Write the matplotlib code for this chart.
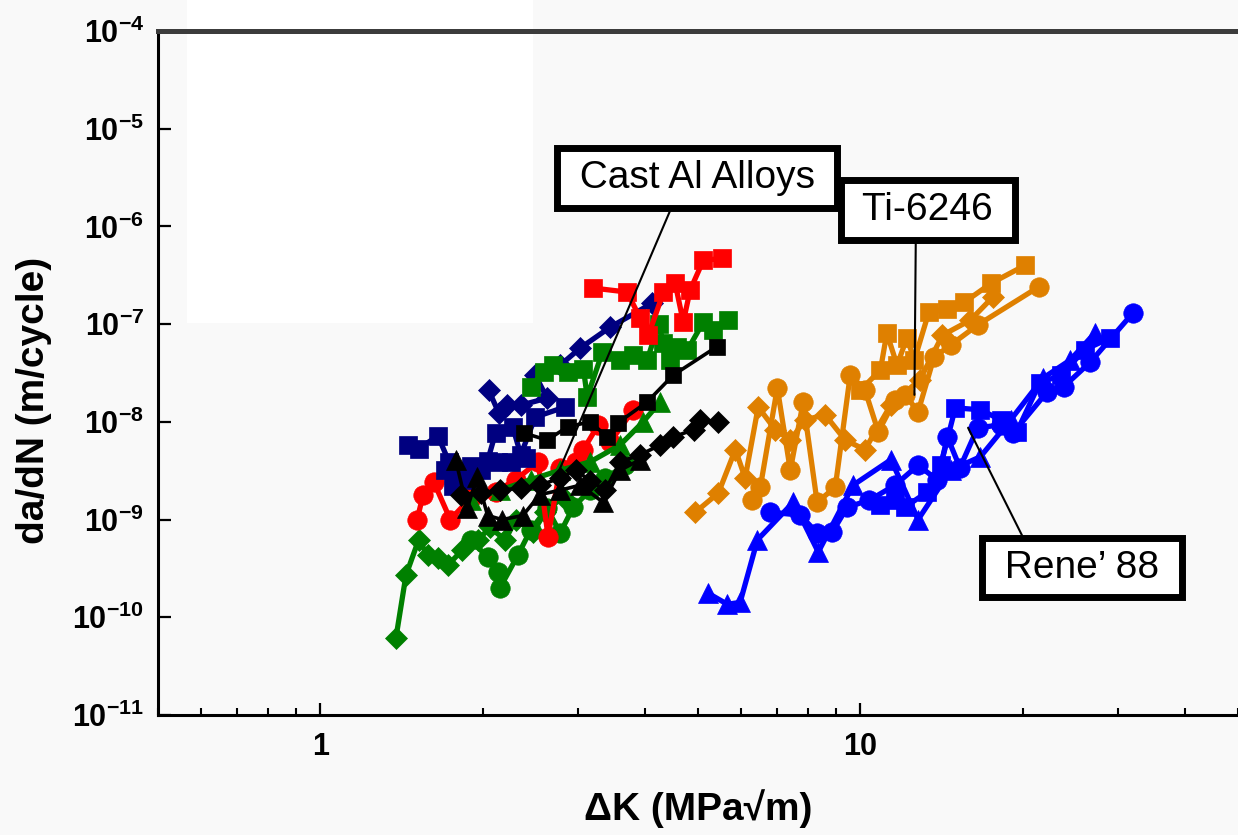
import matplotlib
matplotlib.use("Agg")
import matplotlib.pyplot as plt
from matplotlib.patches import Rectangle
from matplotlib.ticker import LogLocator, NullFormatter, NullLocator

plt.rcParams['font.family'] = ['Liberation Sans', 'DejaVu Sans']
plt.rcParams['mathtext.fontset'] = 'custom'
plt.rcParams['mathtext.rm'] = 'Liberation Sans'
plt.rcParams['mathtext.bf'] = 'Liberation Sans:bold'

# ---- Cast Al alloys ----
red_sq_x = [3.20, 3.70, 3.91, 4.05, 4.32, 4.54, 4.70, 4.84, 5.12, 5.55]
red_sq_y = [2.34e-7, 2.13e-7, 1.15e-7, 7.7e-8, 2.13e-7, 2.63e-7, 1.05e-7, 2.23e-7, 4.5e-7, 4.7e-7]

navy_dia_x = [2.05, 2.14, 2.22, 2.35, 2.63, 2.50, 2.78, 3.03, 3.44, 4.12]
navy_dia_y = [2.1e-8, 1.23e-8, 1.48e-8, 1.48e-8, 1.75e-8, 3.0e-8, 3.8e-8, 5.7e-8, 9.3e-8, 1.64e-7]

navy_sq_x = [1.45, 1.52, 1.65, 1.73, 1.80, 1.90, 2.04, 2.11, 2.27, 2.35, 2.50, 2.84]
navy_sq_y = [5.8e-9, 5.3e-9, 7.2e-9, 3.9e-9, 2.7e-9, 3.5e-9, 4.0e-9, 7.7e-9, 8.9e-9, 4.6e-9, 1.12e-8, 1.42e-8]

navy_sq2_x = [1.70, 1.76, 1.86, 1.98, 2.13, 2.25, 2.40]
navy_sq2_y = [3.2e-9, 2.2e-9, 2.55e-9, 3.2e-9, 3.9e-9, 3.9e-9, 4.3e-9]

green_sq_x = [2.45, 2.59, 2.70, 2.87, 3.07, 3.12, 3.33, 3.59, 3.80, 4.03, 4.23, 4.32, 4.45, 4.58, 4.78, 5.12, 5.34, 5.70]
green_sq_y = [2.3e-8, 3.2e-8, 3.8e-8, 3.2e-8, 3.5e-8, 1.8e-8, 5.2e-8, 4.3e-8, 4.8e-8, 4.3e-8, 1.0e-7, 6.4e-8,
              4.3e-8, 5.8e-8, 5.4e-8, 1.05e-7, 8.7e-8, 1.1e-7]

black_sq_x = [2.38, 2.63, 2.87, 3.16, 3.40, 3.56, 4.03, 4.50, 5.43]
black_sq_y = [7.7e-9, 6.5e-9, 8.9e-9, 1.0e-8, 7.0e-9, 9.8e-9, 1.6e-8, 3.0e-8, 5.9e-8]

red_ci_x = [1.51, 1.55, 1.62, 1.74, 1.90, 2.11, 2.30, 2.53, 2.64, 2.78, 2.97, 3.07, 3.27, 3.44, 3.80]
red_ci_y = [1.0e-9, 1.8e-9, 2.45e-9, 1.0e-9, 1.68e-9, 1.93e-9, 2.56e-9, 3.9e-9, 6.7e-10, 3.4e-9, 3.9e-9,
            5.2e-9, 9.3e-9, 6.2e-9, 1.33e-8]

green_dia_x = [1.38, 1.44, 1.52, 1.58, 1.65, 1.72, 1.83, 1.96, 2.06, 2.20, 2.30, 2.48, 2.61, 2.81]
green_dia_y = [6.2e-11, 2.7e-10, 6.2e-10, 4.3e-10, 4.0e-10, 3.4e-10, 4.85e-10, 6.2e-10, 8.3e-10, 6.2e-10,
               1.0e-9, 7.5e-10, 1.2e-9, 1.7e-9]

green_ci_x = [1.90, 2.04, 2.13, 2.15, 2.32, 2.45, 2.63, 2.78, 2.94, 3.16, 3.37, 3.67]
green_ci_y = [6.2e-10, 4.1e-10, 2.9e-10, 2.0e-10, 4.3e-10, 7.8e-10, 1.3e-9, 7.3e-10, 1.34e-9, 2.0e-9, 2.66e-9, 3.6e-9]

green_tri_x = [1.90, 2.15, 2.45, 2.78, 3.16, 3.59, 3.96, 4.26]
green_tri_y = [1.58e-9, 2.0e-9, 2.56e-9, 3.2e-9, 3.9e-9, 5.8e-9, 1.0e-8, 1.6e-8]

black_tri_x = [1.78, 1.87, 1.95, 2.04, 2.17, 2.37, 2.55, 2.78, 3.03, 3.34, 3.59, 3.91]
black_tri_y = [4.1e-9, 1.3e-9, 2.7e-9, 1.1e-9, 1.0e-9, 1.1e-9, 1.8e-9, 2.0e-9, 2.25e-9, 1.5e-9, 3.2e-9, 4.1e-9]

black_dia_x = [1.82, 1.98, 2.15, 2.35, 2.55, 2.78, 2.97, 3.16, 3.37, 3.59, 3.91, 4.26, 4.50, 4.91, 5.05, 5.46]
black_dia_y = [1.8e-9, 1.87e-9, 2.0e-9, 2.1e-9, 2.25e-9, 2.66e-9, 3.2e-9, 2.5e-9, 2.0e-9, 3.9e-9, 4.6e-9,
               5.8e-9, 7.0e-9, 8.3e-9, 1.05e-8, 1.0e-8]

# ---- Ti-6246 ----
ti_sq_x = [10.0, 10.9, 11.2, 11.7, 12.2, 12.6, 13.4, 14.5, 15.6, 17.5, 20.2]
ti_sq_y = [2.1e-8, 3.4e-8, 8.1e-8, 3.8e-8, 7.2e-8, 4.3e-8, 1.33e-7, 1.42e-7, 1.68e-7, 2.63e-7, 4.0e-7]

ti_ci_x = [6.31, 6.53, 7.02, 7.42, 7.84, 8.32, 8.99, 9.58, 10.2, 10.8, 11.6, 12.1, 12.8, 13.7, 14.7, 16.5, 21.4]
ti_ci_y = [1.58e-9, 2.15e-9, 2.23e-8, 3.2e-9, 1.6e-8, 1.5e-9, 2.15e-9, 3.0e-8, 2.13e-8, 7.9e-9, 1.68e-8,
           1.9e-8, 1.27e-8, 4.6e-8, 6.1e-8, 9.8e-8, 2.4e-7]

ti_dia_x = [4.95, 5.46, 5.87, 6.12, 6.47, 6.96, 7.42, 7.91, 8.61, 9.38, 10.2, 11.4, 12.9, 14.2, 16.0, 17.6]
ti_dia_y = [1.19e-9, 1.87e-9, 5.2e-9, 2.66e-9, 1.42e-8, 8.3e-9, 6.5e-9, 1.05e-8, 1.18e-8, 6.5e-9, 5.2e-9,
            1.5e-8, 2.7e-8, 7.7e-8, 1.1e-7, 1.89e-7]

# ---- Rene'88 ----
rn_tri_x = [5.23, 5.67, 5.99, 6.45, 7.52, 8.36, 9.70, 11.4, 12.8, 14.7, 16.7, 19.0, 21.8, 24.5, 27.2]
rn_tri_y = [1.76e-10, 1.36e-10, 1.42e-10, 6.2e-10, 1.51e-9, 4.65e-10, 2.25e-9, 4.1e-9, 1.0e-9, 3.2e-9,
            4.4e-9, 1.05e-8, 2.8e-8, 4.3e-8, 8.1e-8]

rn_ci_x = [6.81, 7.74, 8.32, 8.87, 9.46, 10.4, 11.6, 12.8, 13.9, 14.5, 15.3, 16.5, 18.2, 19.2, 22.2, 23.8, 26.7, 32.0]
rn_ci_y = [1.19e-9, 1.11e-9, 7.3e-10, 7.4e-10, 1.34e-9, 1.58e-9, 2.25e-9, 3.6e-9, 2.54e-9, 7.0e-9, 3.4e-9,
           8.7e-9, 9.3e-9, 7.7e-9, 2.03e-8, 2.28e-8, 4.1e-8, 1.3e-7]

rn_sq_x = [10.9, 11.6, 12.1, 13.3, 14.1, 15.0, 16.7, 18.2, 19.5, 21.5, 23.5, 26.1, 29.0]
rn_sq_y = [1.41e-9, 1.58e-9, 1.34e-9, 1.91e-9, 3.6e-9, 1.39e-8, 1.33e-8, 1.05e-8, 7.9e-9, 2.5e-8, 3.0e-8,
           5.5e-8, 7.2e-8]

RED = '#ff0000'
NAVY = '#000080'
GREEN = '#008000'
ORANGE = '#df8000'
BLUE = '#0000ff'

fig = plt.figure(figsize=(12.38, 8.35), dpi=100, facecolor='#f9f9f9')
# white patch in the upper left corner, behind the axes
fig.patches.append(Rectangle((187 / 1238, 1 - 323 / 835), 346 / 1238, 323 / 835,
                             transform=fig.transFigure, facecolor='white', edgecolor='none', zorder=-5))

ax = fig.add_axes([158 / 1238, 120 / 835, 1 - 158 / 1238, 684 / 835])
ax.patch.set_alpha(0)
ax.set_xscale('log')
ax.set_yscale('log')


def series(x, y, color, marker, ms, lw=3.8, z=2):
    """One dataset: markers joined by a line."""
    ax.plot(x, y, color=color, marker=marker, ms=ms, mec=color, mew=0.5, lw=lw, zorder=z)


series(rn_sq_x, rn_sq_y, BLUE, 's', 12.5)
series(rn_ci_x, rn_ci_y, BLUE, 'o', 14)
series(rn_tri_x, rn_tri_y, BLUE, '^', 14)

series(ti_dia_x, ti_dia_y, ORANGE, 'D', 11.5, z=3)
series(ti_ci_x, ti_ci_y, ORANGE, 'o', 14, z=3)
series(ti_sq_x, ti_sq_y, ORANGE, 's', 12.5, z=3)

series(green_dia_x, green_dia_y, GREEN, 'D', 11.5)
series(green_ci_x, green_ci_y, GREEN, 'o', 14)
series(red_ci_x, red_ci_y, RED, 'o', 14)
series(navy_sq2_x, navy_sq2_y, NAVY, 's', 12.5)
series(navy_sq_x, navy_sq_y, NAVY, 's', 12.5)
series(navy_dia_x, navy_dia_y, NAVY, 'D', 11.5)
series(green_sq_x, green_sq_y, GREEN, 's', 12.5)
series(red_sq_x, red_sq_y, RED, 's', 12.5)
series(green_tri_x, green_tri_y, GREEN, '^', 14)
series(black_sq_x, black_sq_y, 'black', 's', 11.5, lw=2.6, z=4)
series(black_dia_x, black_dia_y, 'black', 'D', 11.5, lw=2.6, z=4)
series(black_tri_x, black_tri_y, 'black', '^', 14, lw=2.6, z=4)

ax.set_xlim(0.5, 50.1)
ax.set_ylim(1e-11, 1e-4)

yexp = list(range(-11, -3))
ax.set_yticks([10.0 ** k for k in yexp])
ax.set_yticklabels([r'$\mathbf{10^{%d}}$' % k for k in yexp])
ax.yaxis.set_minor_locator(NullLocator())

ax.set_xticks([1, 10])
ax.set_xticklabels(['1', '10'], fontweight='bold')
ax.xaxis.set_minor_locator(LogLocator(base=10, subs=[2, 3, 4, 5, 6, 7, 8, 9]))
ax.xaxis.set_minor_formatter(NullFormatter())

ax.tick_params(axis='both', which='major', direction='in', length=9, width=1.6, labelsize=22, color='black')
ax.tick_params(axis='x', which='major', pad=12)
ax.tick_params(axis='y', which='major', pad=10)
ax.tick_params(axis='x', which='minor', direction='in', length=5, width=1.5)

ax.spines['right'].set_visible(False)
ax.spines['top'].set_color('#3c3c3c')
ax.spines['top'].set_linewidth(3.6)
ax.spines['left'].set_linewidth(2.2)
ax.spines['bottom'].set_linewidth(2.2)

ax.set_xlabel('ΔK (MPa√m)', fontsize=28, fontweight='bold', labelpad=20)
ax.set_ylabel('da/dN (m/cycle)', fontsize=28, fontweight='bold')
ax.yaxis.set_label_coords(-0.098, 0.46)

box = dict(boxstyle='square,pad=0.3', fc='white', ec='black', lw=5)
ax.annotate(' Cast Al Alloys ', xy=(2.74, 2.79e-9), xytext=(0.563, 0.787), textcoords='figure fraction',
            ha='center', va='center', fontsize=28, bbox=box, zorder=10,
            arrowprops=dict(arrowstyle='-', color='black', lw=1.5, relpos=(0.42, 0), shrinkA=0, shrinkB=0))
ax.annotate(' Ti-6246 ', xy=(12.6, 1.89e-8), xytext=(0.7496, 0.7485), textcoords='figure fraction',
            ha='center', va='center', fontsize=28, bbox=box, zorder=10,
            arrowprops=dict(arrowstyle='-', color='black', lw=1.5, relpos=(0.42, 0), shrinkA=0, shrinkB=0))
ax.annotate(' Rene’ 88 ', xy=(15.84, 8.7e-9), xytext=(0.874, 0.320), textcoords='figure fraction',
            ha='center', va='center', fontsize=28, bbox=box, zorder=10,
            arrowprops=dict(arrowstyle='-', color='black', lw=1.5, relpos=(0.2, 1), shrinkA=0, shrinkB=0))

fig.savefig('out.png', dpi=100, facecolor=fig.get_facecolor())
